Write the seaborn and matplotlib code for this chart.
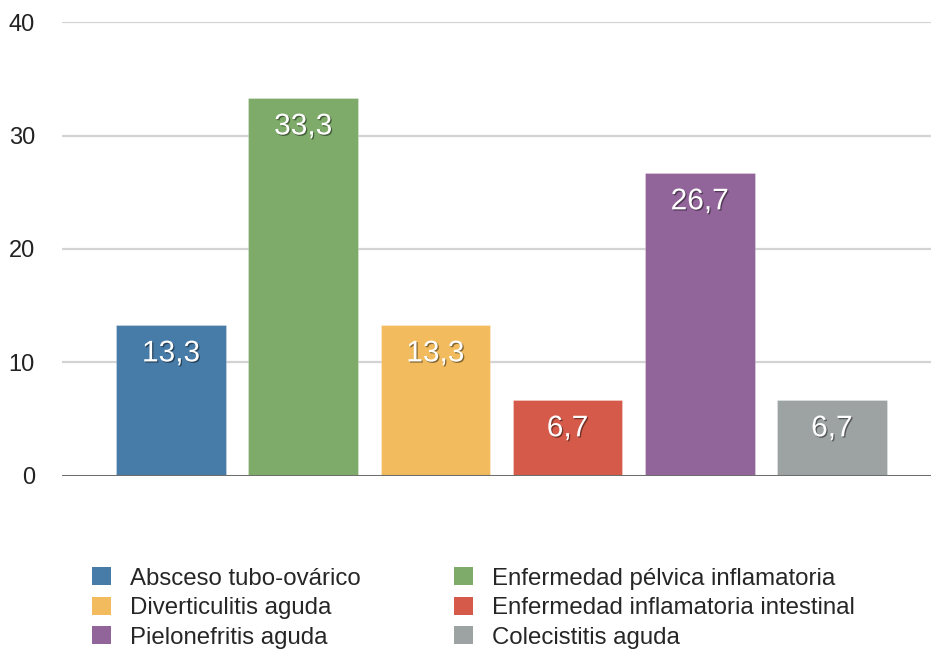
import matplotlib
matplotlib.use("Agg")
import matplotlib.pyplot as plt
import matplotlib.patheffects as pe
from matplotlib.patches import Patch
import seaborn as sns
import pandas as pd

categories = [
    "Absceso tubo-ovárico",
    "Enfermedad pélvica inflamatoria",
    "Diverticulitis aguda",
    "Enfermedad inflamatoria intestinal",
    "Pielonefritis aguda",
    "Colecistitis aguda",
]
values = [13.3, 33.3, 13.3, 6.7, 26.7, 6.7]
colors = ["#477ba8", "#7eab6a", "#f2bc5e", "#d55a49", "#92659a", "#9da2a2"]
y_ticks = [0, 10, 20, 30, 40]

sns.set_style("white")
plt.rcParams["font.family"] = ["Liberation Sans", "DejaVu Sans"]

df = pd.DataFrame({"cat": categories, "val": values})

fig = plt.figure(figsize=(9.31, 6.55), dpi=100)
ax = fig.add_axes([0.0666, 0.2733, 0.9334, 0.6931])

sns.barplot(data=df, x="cat", y="val", hue="cat", palette=colors,
            saturation=1, width=0.83, legend=False, ax=ax, zorder=3,
            edgecolor="#ffffff50", linewidth=0.6)

ax.set_ylim(0, 40)
ax.set_xlim(-0.825, 5.75)
ax.set_yticks(y_ticks)
ax.set_yticklabels([str(t) for t in y_ticks], fontsize=17, color="#222222")
ax.tick_params(axis="y", length=0, pad=19.5)
ax.set_xticks([])
ax.set_xlabel("")
ax.set_ylabel("")
for s in ax.spines.values():
    s.set_visible(False)

for t in y_ticks[1:]:
    ax.axhline(t, color="#d3d3d3", lw=1.6, zorder=1)
ax.axhline(0, color="#6e6e6e", lw=2.2, zorder=4)

# value labels inside each bar, near the top
shadow = [pe.withSimplePatchShadow(offset=(0.9, -0.9), shadow_rgbFace="black", alpha=0.45)]
for i, v in enumerate(values):
    ax.text(i, v - 2.5, f"{v:.1f}".replace(".", ","), ha="center", va="center",
            color="white", fontsize=21.5, path_effects=shadow, zorder=5)

handles = [Patch(facecolor=c, edgecolor="none") for c in colors]
order = [0, 2, 4, 1, 3, 5]
fig.legend([handles[i] for i in order], [categories[i] for i in order],
           loc="upper left", bbox_to_anchor=(0.0988, 0.134), ncol=2,
           frameon=False, fontsize=17.3, handlelength=0.79, handleheight=0.79,
           handletextpad=0.79, columnspacing=3.9, labelspacing=0.29,
           borderaxespad=0, borderpad=0)

fig.savefig("out.png", dpi=100)
